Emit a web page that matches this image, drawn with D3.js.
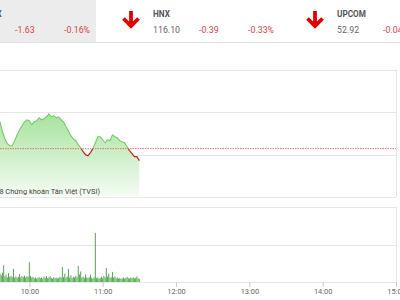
<!DOCTYPE html>
<html>
<head>
<meta charset="utf-8">
<script src="https://cdn.jsdelivr.net/npm/d3@7"></script>
<style>
  body { margin: 0; background: #fff; }
  svg { display: block; font-family: Roboto, "Noto Sans", sans-serif; }
</style>
</head>
<body>
<div id="chart"></div>
<script>
// header boxes
const indexNames = ["VN-INDEX", "HNX", "UPCOM"];
const indexValues = ["1,019.08", "116.10", "52.92"];
const indexChanges = ["-1.63", "-0.39", "-0.04"];
const indexPercents = ["-0.16%", "-0.33%", "-0.08%"];

// intraday index, one point every 2 minutes from 9:30
const priceStart = "9:30";
const priceStep = 2;
const priceValues = [
  1024.35, 1024.59, 1024.35, 1023.88, 1022.71, 1021.88, 1021.29, 1021.06, 1021.06, 1021.65,
  1022.35, 1022.94, 1023.41, 1023.88, 1024.12, 1024.00, 1023.53, 1023.88, 1024.00, 1024.35,
  1024.12, 1024.24, 1024.47, 1024.82, 1024.47, 1024.59, 1024.35, 1024.47, 1024.12, 1023.88,
  1023.29, 1022.82, 1022.24, 1021.88, 1021.65, 1021.18, 1020.82, 1020.35, 1020.00, 1019.88,
  1020.24, 1020.71, 1021.41, 1022.12, 1022.12, 1021.76, 1021.41, 1021.76, 1021.65, 1022.35,
  1022.12, 1022.00, 1021.65, 1021.53, 1021.41, 1020.94, 1020.47, 1020.12, 1019.76, 1019.76,
  1019.29
];
const refValue = 1020.71;
const priceTicks = [1015, 1020, 1025, 1030];

// volume, one bar per minute from 9:36
const volStart = "9:36";
const volValues = [
  0.22, 0.18, 0.25, 0.45, 0.15, 0.20, 0.12, 0.24, 0.14, 0.16,
  0.13, 0.35, 0.12, 0.15, 0.11, 0.14, 0.21, 0.12, 0.16, 0.13,
  0.17, 0.12, 0.15, 0.14, 0.53, 0.16, 0.12, 0.14, 0.10, 0.12,
  0.09, 0.11, 0.13, 0.10, 0.12, 0.09, 0.14, 0.11, 0.16, 0.10,
  0.12, 0.16, 0.11, 0.09, 0.13, 0.10, 0.12, 0.09, 0.11, 0.14,
  0.12, 0.40, 0.13, 0.22, 0.11, 0.15, 0.35, 0.12, 0.18, 0.10,
  0.14, 0.12, 0.16, 0.13, 0.43, 0.20, 0.28, 0.12, 0.14, 0.11,
  0.20, 0.12, 0.10, 0.13, 0.20, 0.11, 0.09, 0.12, 1.31, 0.10,
  0.12, 0.09, 0.11, 0.14, 0.10, 0.16, 0.12, 0.37, 0.15, 0.22,
  0.11, 0.13, 0.27, 0.12, 0.15, 0.10, 0.12, 0.09, 0.11, 0.08,
  0.10, 0.12, 0.09, 0.11, 0.14, 0.10, 0.09, 0.12, 0.10, 0.13,
  0.09, 0.11, 0.15, 0.10, 0.08
];
const volTicks = [0, 1, 2];

const width = 400, height = 300;
const parse = d3.timeParse("%H:%M");

const svg = d3.select("#chart").append("svg")
  .attr("width", width)
  .attr("height", height);

// ---- header
svg.append("rect")
  .attr("x", 0).attr("y", 0)
  .attr("width", 96).attr("height", 42)
  .attr("fill", "#ececec");
svg.append("line")
  .attr("x1", 0).attr("x2", width)
  .attr("y1", 42.5).attr("y2", 42.5)
  .attr("stroke", "#e2e2e2");

const boxes = svg.append("g")
  .selectAll("g")
  .data(indexNames)
  .join("g")
    .attr("transform", (d, i) => `translate(${-31 + 184 * i},0)`);

boxes.append("path")
  .attr("d", "M-22,11V26M-29.5,18.5L-22,26L-14.5,18.5")
  .attr("fill", "none")
  .attr("stroke", "#e50000")
  .attr("stroke-width", 3.8);

// the first label sits half off the left edge, as in the source
boxes.append("text")
  .attr("x", (d, i) => i === 0 ? -5 : 0)
  .attr("y", 16.5)
  .attr("font-size", 8.2)
  .attr("font-weight", "bold")
  .attr("fill", "#555")
  .text(d => d);

boxes.append("text")
  .attr("x", (d, i) => i === 0 ? -3 : 0)
  .attr("y", 33)
  .attr("font-size", 8.8)
  .attr("fill", "#666")
  .text((d, i) => indexValues[i]);

boxes.append("text")
  .attr("x", 46)
  .attr("y", 33)
  .attr("font-size", 8.8)
  .attr("fill", "#d9433f")
  .text((d, i) => indexChanges[i]);

boxes.append("text")
  .attr("x", 95)
  .attr("y", 33)
  .attr("font-size", 8.8)
  .attr("fill", "#d9433f")
  .text((d, i) => indexPercents[i]);

// ---- scales
const x = d3.scaleTime()
  .domain([parse("9:00"), parse("15:00")])
  .range([-44, 396]);

const y = d3.scaleLinear()
  .domain([1015, 1030])
  .range([197, 70]);

const yv = d3.scaleLinear()
  .domain([0, 2])
  .range([282, 207]);

const t0 = parse(priceStart);
const priceData = priceValues.map((v, i) => ({ t: d3.timeMinute.offset(t0, i * priceStep), v }));
const v0 = parse(volStart);
const volData = volValues.map((v, i) => ({ t: d3.timeMinute.offset(v0, i), v }));

// ---- price panel
svg.append("g")
  .attr("stroke", "#e6e6e6")
  .selectAll("line")
  .data(priceTicks)
  .join("line")
    .attr("x1", -50).attr("x2", 396)
    .attr("y1", d => Math.round(y(d)) + 0.5)
    .attr("y2", d => Math.round(y(d)) + 0.5);
svg.append("line")
  .attr("x1", 396.5).attr("x2", 396.5)
  .attr("y1", 70).attr("y2", 197)
  .attr("stroke", "#e6e6e6");

const defs = svg.append("defs");
const grad = defs.append("linearGradient")
  .attr("id", "fillGrad")
  .attr("gradientUnits", "userSpaceOnUse")
  .attr("x1", 0).attr("x2", 0)
  .attr("y1", 112).attr("y2", 197);
grad.append("stop").attr("offset", 0).attr("stop-color", "#a5e29c");
grad.append("stop").attr("offset", 1).attr("stop-color", "#f6fcf5");

defs.append("clipPath").attr("id", "above")
  .append("rect")
  .attr("x", -50).attr("y", 0)
  .attr("width", 500).attr("height", y(refValue));
defs.append("clipPath").attr("id", "below")
  .append("rect")
  .attr("x", -50).attr("y", y(refValue))
  .attr("width", 500).attr("height", 300);

svg.append("path")
  .datum(priceData)
  .attr("fill", "url(#fillGrad)")
  .attr("d", d3.area()
    .x(d => x(d.t))
    .y0(196)
    .y1(d => y(d.v)));

const line = d3.line()
  .x(d => x(d.t))
  .y(d => y(d.v));

svg.append("line")
  .attr("x1", -50).attr("x2", 396)
  .attr("y1", y(refValue)).attr("y2", y(refValue))
  .attr("stroke", "#e07070")
  .attr("stroke-dasharray", "1.5,1");

svg.append("path")
  .datum(priceData)
  .attr("clip-path", "url(#above)")
  .attr("fill", "none")
  .attr("stroke", "#72cc68")
  .attr("stroke-width", 1.1)
  .attr("d", line);

svg.append("path")
  .datum(priceData)
  .attr("clip-path", "url(#below)")
  .attr("fill", "none")
  .attr("stroke", "#c4201c")
  .attr("stroke-width", 1.2)
  .attr("d", line);

svg.append("text")
  .attr("x", 100)
  .attr("y", 193.5)
  .attr("text-anchor", "end")
  .attr("font-size", 7.4)
  .attr("fill", "#444")
  .text("©2018 Chứng khoán Tân Việt (TVSI)");

// ---- volume panel
svg.append("g")
  .attr("stroke", "#e6e6e6")
  .selectAll("line")
  .data(volTicks)
  .join("line")
    .attr("x1", -50).attr("x2", 396)
    .attr("y1", d => Math.round(yv(d)) + 0.5)
    .attr("y2", d => Math.round(yv(d)) + 0.5);
svg.append("line")
  .attr("x1", 396.5).attr("x2", 396.5)
  .attr("y1", 207).attr("y2", 282)
  .attr("stroke", "#e6e6e6");

svg.append("g")
  .attr("fill", "#4fa84c")
  .selectAll("rect")
  .data(volData)
  .join("rect")
    .attr("x", d => x(d.t) - 0.5)
    .attr("width", 1)
    .attr("y", d => yv(d.v))
    .attr("height", d => yv(0) - yv(d.v));

const xAxis = svg.append("g")
  .attr("transform", "translate(0,282)")
  .call(d3.axisBottom(x)
    .ticks(d3.timeHour.every(1))
    .tickFormat(d3.timeFormat("%H:%M"))
    .tickSize(5)
    .tickPadding(2))
  .call(g => g.select(".domain").remove());
xAxis.selectAll(".tick line").attr("stroke", "#ccc");
xAxis.selectAll(".tick text")
  .attr("fill", "#666")
  .attr("font-size", 7.4)
  .attr("font-family", "Roboto, sans-serif");
</script>
</body>
</html>
